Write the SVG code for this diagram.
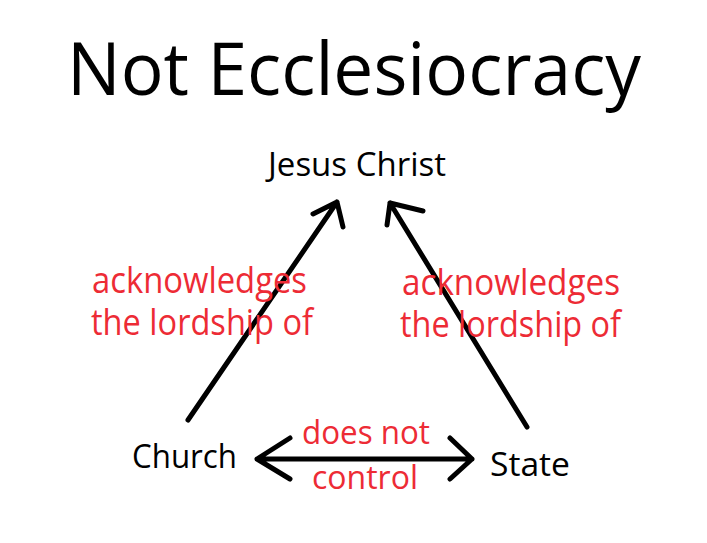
<svg xmlns="http://www.w3.org/2000/svg" width="707" height="543" viewBox="0 0 707 543">
<style>
.t{font-family:"Open Sans","Noto Sans","Liberation Sans",sans-serif;fill:#000}
.r{font-family:"Open Sans","Noto Sans","Liberation Sans",sans-serif;fill:#ED2B35}
.c{fill:none;stroke:#000;stroke-width:5;stroke-linecap:round;stroke-linejoin:round}
</style>
<rect width="707" height="543" fill="#fff"/>
<g id="title"><text class="t" x="67" y="95" font-size="74" textLength="574" lengthAdjust="spacingAndGlyphs">Not Ecclesiocracy</text></g>
<g id="jesus"><text class="t" x="268" y="176" font-size="33" textLength="178" lengthAdjust="spacingAndGlyphs">Jesus Christ</text></g>
<g id="church"><text class="t" x="132" y="468" font-size="33" textLength="105" lengthAdjust="spacingAndGlyphs">Church</text></g>
<g id="state"><text class="t" x="490" y="476" font-size="33" textLength="80" lengthAdjust="spacingAndGlyphs">State</text></g>
<g id="connectors">
<path class="c" d="M188 420 L337 202 M313 214 L337 202 L343 227"/>
<path class="c" d="M527 427 L390 203 M423 211 L390 203 L387 225"/>
<path class="c" d="M257 459 L472 459 M290 438 L257 459 L290 479 M450 438 L472 459 L450 479"/>
</g>
<g id="labels">
<text class="r" x="92" y="293" font-size="36" textLength="215" lengthAdjust="spacingAndGlyphs">acknowledges</text>
<text class="r" x="91" y="335" font-size="36" textLength="222" lengthAdjust="spacingAndGlyphs">the lordship of</text>
<text class="r" x="402" y="295" font-size="36" textLength="218" lengthAdjust="spacingAndGlyphs">acknowledges</text>
<text class="r" x="400" y="337" font-size="36" textLength="221" lengthAdjust="spacingAndGlyphs">the lordship of</text>
<text class="r" x="302" y="444" font-size="32" textLength="128" lengthAdjust="spacingAndGlyphs">does not</text>
<text class="r" x="312" y="489" font-size="32" textLength="106" lengthAdjust="spacingAndGlyphs">control</text>
</g>
</svg>
